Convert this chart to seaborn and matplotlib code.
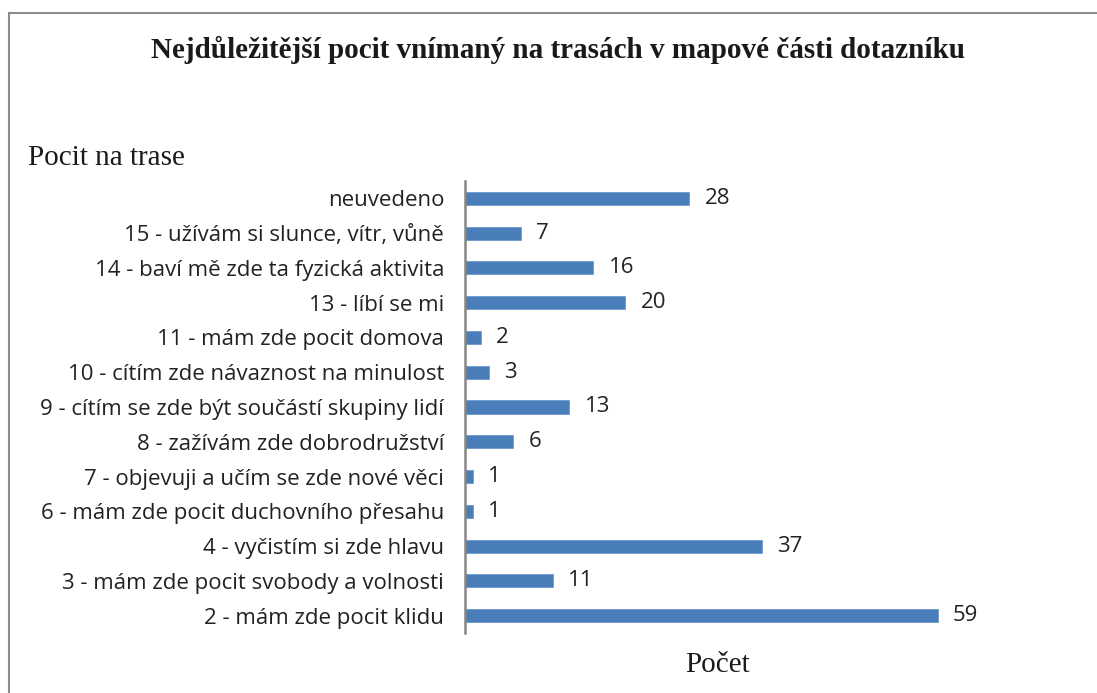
import matplotlib
matplotlib.use("Agg")
import matplotlib.pyplot as plt
import seaborn as sns
import pandas as pd
from matplotlib.lines import Line2D

categories = [
    "neuvedeno",
    "15 - užívám si slunce, vítr, vůně",
    "14 - baví mě zde ta fyzická aktivita",
    "13 - líbí se mi",
    "11 - mám zde pocit domova",
    "10 - cítím zde návaznost na minulost",
    "9 - cítím se zde být součástí skupiny lidí",
    "8 - zažívám zde dobrodružství",
    "7 - objevuji a učím se zde nové věci",
    "6 - mám zde pocit duchovního přesahu",
    "4 - vyčistím si zde hlavu",
    "3 - mám zde pocit svobody a volnosti",
    "2 - mám zde pocit klidu",
]
values = [28, 7, 16, 20, 2, 3, 13, 6, 1, 1, 37, 11, 59]

title = "Nejdůležitější pocit vnímaný na trasách v mapové části dotazníku"
ylabel = "Pocit na trase"
xlabel = "Počet"

df = pd.DataFrame({"cat": categories, "val": values})

sns.set_theme(style="white")
plt.rcParams["font.family"] = ["Open Sans", "DejaVu Sans"]

fig = plt.figure(figsize=(10.97, 6.93), dpi=100)
ax = fig.add_axes([465/1097, 1-633/693, (1026-465)/1097, (633-181)/693])

sns.barplot(data=df, x="val", y="cat", orient="h", color="#4a7ebb",
            width=0.375, saturation=1, ax=ax, edgecolor="#6f9bd1", linewidth=0.6)

ax.set_xlim(0, 70)
ax.set_ylim(12.5, -0.5)
ax.set_xlabel("")
ax.set_ylabel("")
ax.set_xticks([])
ax.tick_params(axis="y", length=0, pad=15, labelsize=16, colors="#222222")
for s in ["top", "right", "bottom"]:
    ax.spines[s].set_visible(False)
ax.spines["left"].set_color("#868686")
ax.spines["left"].set_linewidth(1.8)

for c in ax.containers:
    ax.bar_label(c, labels=[str(v) for v in values], padding=11,
                 fontsize=16, color="#222222")

fig.text(558/1097, 1-50/693, title, ha="center", va="center",
         family="Liberation Serif", fontweight="bold", fontsize=21, color="#1a1a1a")
fig.text(28/1097, 1-158/693, ylabel, ha="left", va="center",
         family="Liberation Serif", fontsize=21, color="#1a1a1a")
fig.text(718/1097, 1-665/693, xlabel, ha="center", va="center",
         family="Liberation Serif", fontsize=21, color="#1a1a1a")

# outer frame (top and left edges visible)
fig.add_artist(Line2D([8.5/1097, 8.5/1097], [0, 1-12.5/693], transform=fig.transFigure,
                      color="#8c8c8c", linewidth=1.5))
fig.add_artist(Line2D([8.5/1097, 1], [1-12.5/693, 1-12.5/693], transform=fig.transFigure,
                      color="#8c8c8c", linewidth=1.5))

fig.savefig("out.png", dpi=100)
